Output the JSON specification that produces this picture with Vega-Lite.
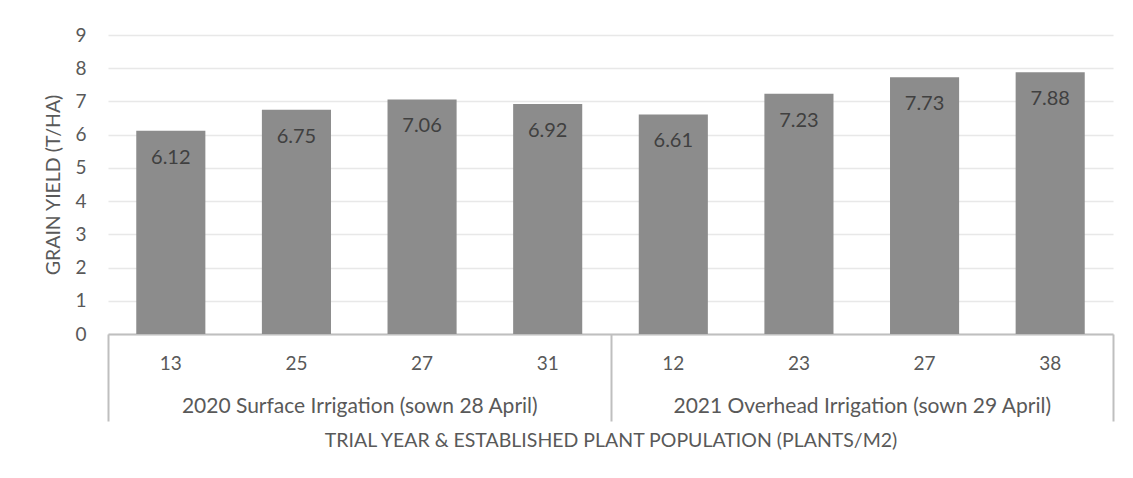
{
  "$schema": "https://vega.github.io/schema/vega-lite/v6.json",
  "autosize": {"type": "none"},
  "padding": {"left": 108, "top": 35, "right": 20, "bottom": 144},
  "width": 1005,
  "height": 299,
  "background": "#ffffff",
  "config": {
    "font": "Lato",
    "view": {"stroke": null},
    "axis": {"labelFont": "Lato", "titleFont": "Lato", "labelColor": "#595959", "titleColor": "#595959", "titleFontWeight": "normal"},
    "axisY": {
      "title": "GRAIN YIELD  (T/HA)",
      "titleFontSize": 19.5,
      "titlePadding": 11,
      "values": [0, 1, 2, 3, 4, 5, 6, 7, 8, 9],
      "labelFontSize": 19,
      "labelPadding": 22,
      "labelOverlap": false,
      "ticks": false,
      "domain": false,
      "gridColor": "#e8e8e8",
      "gridWidth": 1.3
    }
  },
  "data": {
    "values": [
      {"trial": "2020 Surface Irrigation (sown 28 April)", "plot": "2020|13", "plants": 13, "yield": 6.12},
      {"trial": "2020 Surface Irrigation (sown 28 April)", "plot": "2020|25", "plants": 25, "yield": 6.75},
      {"trial": "2020 Surface Irrigation (sown 28 April)", "plot": "2020|27", "plants": 27, "yield": 7.06},
      {"trial": "2020 Surface Irrigation (sown 28 April)", "plot": "2020|31", "plants": 31, "yield": 6.92},
      {"trial": "2021 Overhead Irrigation (sown 29 April)", "plot": "2021|12", "plants": 12, "yield": 6.61},
      {"trial": "2021 Overhead Irrigation (sown 29 April)", "plot": "2021|23", "plants": 23, "yield": 7.23},
      {"trial": "2021 Overhead Irrigation (sown 29 April)", "plot": "2021|27", "plants": 27, "yield": 7.73},
      {"trial": "2021 Overhead Irrigation (sown 29 April)", "plot": "2021|38", "plants": 38, "yield": 7.88}
    ]
  },
  "layer": [
    {
      "encoding": {
        "x": {
          "field": "plot",
          "type": "nominal",
          "sort": null,
          "scale": {"paddingInner": 0.45, "paddingOuter": 0.225},
          "axis": {
            "orient": "bottom",
            "title": null,
            "labelExpr": "split(datum.value, '|')[1]",
            "labelAngle": 0,
            "labelFontSize": 19,
            "labelPadding": 20,
            "ticks": false,
            "tickSize": 0,
            "domain": false,
            "grid": false
          }
        },
        "y": {
          "field": "yield",
          "type": "quantitative",
          "scale": {"domain": [0, 9], "nice": false},
          "axis": {"title": "GRAIN YIELD  (T/HA)", "values": [0, 1, 2, 3, 4, 5, 6, 7, 8, 9]}
        }
      },
      "layer": [
        {"mark": {"type": "bar", "color": "#8c8c8c"}},
        {
          "mark": {"type": "text", "baseline": "middle", "align": "center", "dy": 27, "fontSize": 20, "color": "#404040"},
          "encoding": {"text": {"field": "yield", "type": "quantitative", "format": ".2f"}}
        }
      ]
    },
    {
      "mark": {"type": "point", "opacity": 0},
      "encoding": {
        "x": {
          "field": "trial",
          "type": "nominal",
          "sort": null,
          "scale": {"type": "band", "paddingInner": 0, "paddingOuter": 0},
          "axis": {
            "orient": "bottom",
            "title": "TRIAL YEAR & ESTABLISHED PLANT POPULATION (PLANTS/M2)",
            "titleFontSize": 19.5,
            "titlePadding": 9,
            "labelAngle": 0,
            "labelFontSize": 21,
            "labelLimit": 0,
            "labelPadding": -26,
            "tickBand": "extent",
            "tickSize": 87,
            "tickWidth": 2,
            "tickColor": "#bfbfbf",
            "domainColor": "#bfbfbf",
            "domainWidth": 2,
            "grid": false
          }
        },
        "y": {
          "field": "yield",
          "type": "quantitative",
          "axis": {"title": "GRAIN YIELD  (T/HA)", "values": [0, 1, 2, 3, 4, 5, 6, 7, 8, 9]}
        }
      }
    }
  ],
  "resolve": {"scale": {"x": "independent"}, "axis": {"x": "independent"}}
}
